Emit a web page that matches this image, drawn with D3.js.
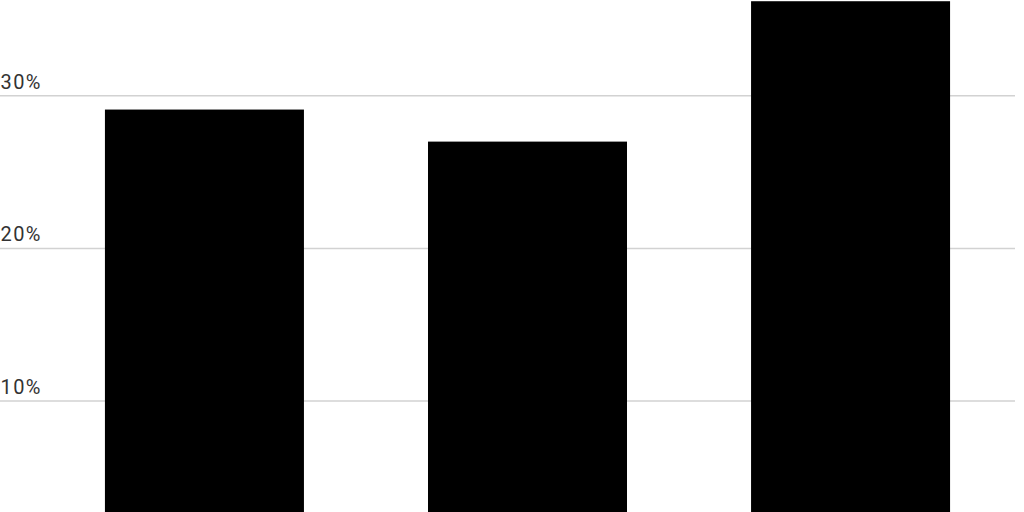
<!DOCTYPE html>
<html>
<head>
<meta charset="utf-8">
<script src="https://cdn.jsdelivr.net/npm/d3@7"></script>
<style>
  html, body { margin: 0; padding: 0; background: #fff; overflow: hidden; }
  svg { display: block; }
</style>
</head>
<body>
<svg id="chart" width="1024" height="512"></svg>
<script>
const categories = ["A", "B", "C"];
const values = [29.1, 27.0, 36.2];
const tickValues = [10, 20, 30];
const tickLabels = ["10%", "20%", "30%"];

const width = 1024, height = 512;
const svg = d3.select("#chart");

const x = d3.scaleBand()
  .domain(categories)
  .range([40, 1015])
  .paddingInner(0.384)
  .paddingOuter(0.201);

const y = d3.scaleLinear()
  .domain([0, 36.28])
  .range([553.6, 0]);

// gridlines
const grid = svg.append("g").attr("class", "grid");
grid.selectAll("line")
  .data(tickValues)
  .join("line")
  .attr("x1", 0)
  .attr("x2", 1015)
  .attr("y1", d => y(d))
  .attr("y2", d => y(d))
  .attr("stroke", "#d2d2d2")
  .attr("stroke-width", 1.5);

grid.selectAll("text")
  .data(tickValues)
  .join("text")
  .attr("x", 0.5)
  .attr("y", d => y(d) - 7)
  .attr("fill", "#333")
  .attr("font-family", "Roboto, sans-serif")
  .attr("font-size", 20)
  .attr("letter-spacing", 1.4)
  .text((d, i) => tickLabels[i]);

// bars
svg.append("g").selectAll("rect")
  .data(values)
  .join("rect")
  .attr("x", (d, i) => x(categories[i]))
  .attr("width", x.bandwidth())
  .attr("y", d => y(d))
  .attr("height", d => y(0) - y(d))
  .attr("fill", "#000");
</script>
</body>
</html>
